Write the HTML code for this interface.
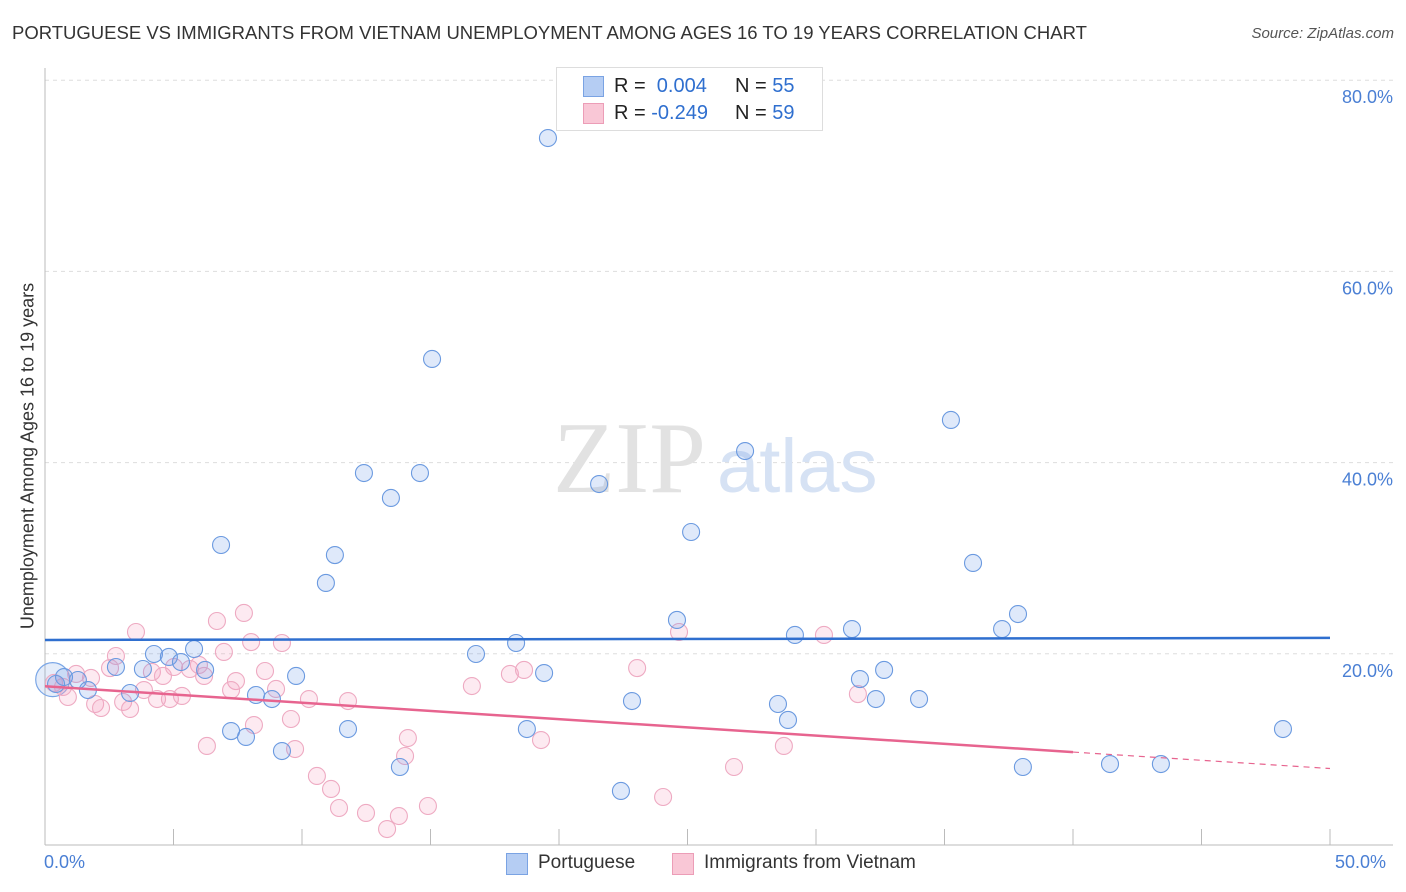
<!DOCTYPE html>
<html><head><meta charset="utf-8"><style>
body{margin:0;background:#fff;font-family:"Liberation Sans",sans-serif;}
#wrap{position:relative;width:1406px;height:892px;overflow:hidden;}
.t{position:absolute;white-space:nowrap;}
</style></head><body><div id="wrap">
<div class="t" style="left:12px;top:22px;font-size:18.5px;color:#333;">PORTUGUESE VS IMMIGRANTS FROM VIETNAM UNEMPLOYMENT AMONG AGES 16 TO 19 YEARS CORRELATION CHART</div>
<div class="t" style="right:12px;top:25px;font-size:15px;color:#555;font-style:italic;">Source: ZipAtlas.com</div>
<svg id="svg" width="1406" height="892" style="position:absolute;left:0;top:0;"></svg>
</div>
<script>
const blueX=[19.57,15.06,35.25,27.24,12.41,14.59,13.46,21.56,25.14,6.85,11.28,10.93,36.11,37.86,24.59,37.24,31.40,29.18,18.33,5.80,4.24,4.82,5.29,16.77,2.76,3.81,6.23,32.65,9.77,19.42,31.71,0.74,1.28,0.43,1.67,3.31,8.21,8.83,22.84,32.33,34.01,28.52,28.91,7.24,7.82,11.79,18.75,48.17,9.22,13.81,38.05,41.44,43.42,22.41];
const blueY=[73.95,50.84,44.46,41.21,38.91,38.91,36.30,37.76,32.74,31.38,30.33,27.41,29.50,24.16,23.54,22.59,22.59,21.97,21.13,20.50,19.98,19.67,19.14,19.98,18.62,18.41,18.31,18.31,17.68,17.99,17.36,17.57,17.26,16.84,16.21,15.90,15.69,15.27,15.06,15.27,15.27,14.75,13.08,11.92,11.30,12.13,12.13,12.13,9.83,8.16,8.16,8.47,8.47,5.65];
const pinkX=[3.54,6.69,7.74,8.02,9.22,6.96,2.76,2.53,1.79,1.21,4.16,4.59,5.02,5.64,5.99,6.19,8.56,7.43,7.24,8.99,3.85,4.36,4.86,5.33,10.27,11.79,3.04,3.31,1.95,2.18,0.89,8.13,9.57,6.30,9.73,10.58,11.13,11.44,12.49,13.31,13.77,14.90,14.12,14.01,0.35,0.70,16.61,18.09,18.64,19.30,23.04,24.67,30.31,31.63,28.75,26.81,24.05];
const pinkY=[22.28,23.43,24.27,21.23,21.13,20.19,19.77,18.51,17.47,17.89,18.10,17.68,18.62,18.41,18.83,17.68,18.20,17.15,16.21,16.32,16.21,15.27,15.27,15.59,15.27,15.06,14.96,14.23,14.75,14.33,15.48,12.55,13.18,10.36,10.04,7.22,5.86,3.87,3.35,1.67,3.03,4.08,11.19,9.31,16.95,16.53,16.63,17.89,18.31,10.98,18.51,22.28,21.97,15.79,10.36,8.16,5.02];
const blueTrend=[21.45,21.66];
const pinkTrend=[16.6,8.0];
const yTicks=[20,40,60,80];
const yTickLabels=["20.0%","40.0%","60.0%","80.0%"];
const xTicks=[0,5,10,15,20,25,30,35,40,45,50];

const svg=document.getElementById('svg');
const NS='http://www.w3.org/2000/svg';
const X=v=>45+v*25.7;
const Y=v=>845-v*9.56;
function mk(tag,attrs,parent){const e=document.createElementNS(NS,tag);for(const k in attrs)e.setAttribute(k,attrs[k]);(parent||svg).appendChild(e);return e;}

yTicks.forEach((t,i)=>{
  const g=mk('line',{x1:45,x2:1393,y1:Y(t),y2:Y(t),stroke:'#ddd','stroke-dasharray':'4,4'});
  
  
  const l=mk('text',{x:1393,y:Y(t)+23,'text-anchor':'end','font-size':18,fill:'#4a7fd4','font-family':'Liberation Sans'});
  l.textContent=yTickLabels[i];
  
  
});
const ax=mk('line',{x1:45,x2:1393,y1:845,y2:845,stroke:'#bbb'});


const ay=mk('line',{x1:45,x2:45,y1:68,y2:845,stroke:'#bbb'});


xTicks.forEach(t=>{
  const k=mk('line',{x1:X(t),x2:X(t),y1:829,y2:845,stroke:'#bbb'});
  
  
});
const wm=mk('text',{x:553,y:492,'font-size':102,fill:'#e2e2e2','font-family':'Liberation Serif'});wm.textContent='ZIP';


const wm2=mk('text',{x:717,y:492,'font-size':76,fill:'#d6e2f4','font-family':'Liberation Sans'});wm2.textContent='atlas';



const big=mk('circle',{cx:X(0.3),cy:Y(17.3),r:17,fill:'rgba(110,155,230,0.18)',stroke:'#7aa6e6','stroke-width':1.2});


pinkX.forEach((x,i)=>{
  const c=mk('circle',{cx:X(x),cy:Y(pinkY[i]),r:8.5,fill:'rgba(245,160,190,0.22)',stroke:'#eeaac2','stroke-width':1.1});
  
  
});
blueX.forEach((x,i)=>{
  const c=mk('circle',{cx:X(x),cy:Y(blueY[i]),r:8.5,fill:'rgba(110,155,230,0.22)',stroke:'#6b9ae0','stroke-width':1.1});
  
  
});
const bt=mk('line',{x1:X(0),x2:X(50),y1:Y(blueTrend[0]),y2:Y(blueTrend[1]),stroke:'#2f6fcf','stroke-width':2.5});


const pAt=x=>pinkTrend[0]+(pinkTrend[1]-pinkTrend[0])*x/50;
const pt=mk('line',{x1:X(0),x2:X(40),y1:Y(pAt(0)),y2:Y(pAt(40)),stroke:'#e7648f','stroke-width':2.5});


const pd=mk('line',{x1:X(40),x2:X(50),y1:Y(pAt(40)),y2:Y(pAt(50)),stroke:'#e7648f','stroke-width':1.2,'stroke-dasharray':'6,5'});


</script>
<div class="t" style="left:556px;top:67px;width:265px;height:62px;border:1px solid #ddd;background:#fff;font-size:20px;color:#222;">
 <div style="position:absolute;left:26px;top:8px;width:19px;height:19px;background:#b5cdf3;border:1px solid #7aa3e3;"></div>
 <div style="position:absolute;left:57px;top:7px;">R = &nbsp;<span style="color:#2f6fcf">0.004</span></div>
 <div style="position:absolute;left:178px;top:7px;">N = <span style="color:#2f6fcf">55</span></div>
 <div style="position:absolute;left:26px;top:35px;width:19px;height:19px;background:#f9c7d6;border:1px solid #ec9db7;"></div>
 <div style="position:absolute;left:57px;top:34px;">R = <span style="color:#2f6fcf">-0.249</span></div>
 <div style="position:absolute;left:178px;top:34px;">N = <span style="color:#2f6fcf">59</span></div>
</div>
<div class="t" style="left:44px;top:852px;font-size:18px;color:#4a7fd4;">0.0%</div>
<div class="t" style="left:1335px;top:852px;font-size:18px;color:#4a7fd4;">50.0%</div>
<div class="t" style="left:506px;top:853px;width:20px;height:20px;background:#b5cdf3;border:1px solid #7aa3e3;"></div>
<div class="t" style="left:538px;top:852px;font-size:19px;color:#333;">Portuguese</div>
<div class="t" style="left:672px;top:853px;width:20px;height:20px;background:#f9c7d6;border:1px solid #ec9db7;"></div>
<div class="t" style="left:704px;top:852px;font-size:19px;color:#333;">Immigrants from Vietnam</div>
<div class="t" style="top:456px;font-size:18px;color:#333;transform:translate(-50%,-50%) rotate(-90deg);left:28px;">Unemployment Among Ages 16 to 19 years</div>
</body></html>
